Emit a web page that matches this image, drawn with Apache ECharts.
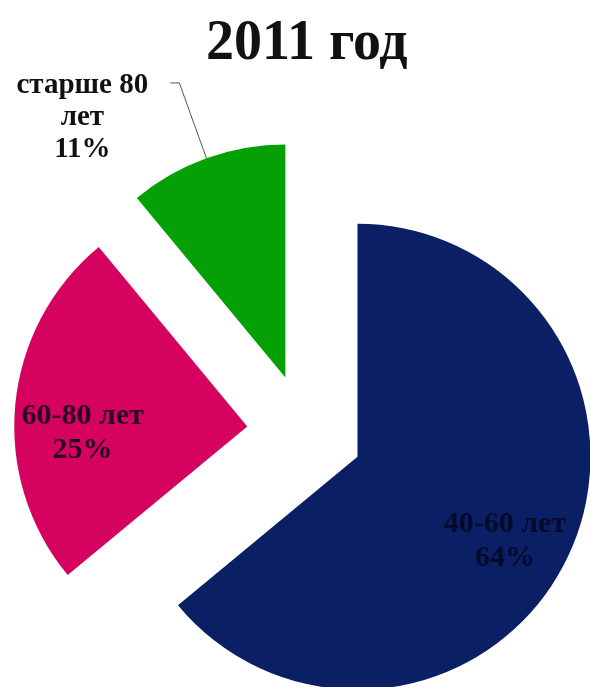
<!DOCTYPE html>
<html>
<head>
<meta charset="utf-8">
<script src="https://cdn.jsdelivr.net/npm/echarts@6/dist/echarts.min.js"></script>
<style>
  html, body { margin: 0; padding: 0; background: #ffffff; }
  #chart { width: 590px; height: 687px; }
</style>
</head>
<body>
<div id="chart"></div>
<script>
// Age groups and their shares, %
const titleText = '2011 год';
const categories = ['40-60 лет', '60-80 лет', 'старше 80 лет'];
const shares = [64, 25, 11];
const sliceColors = ['#0b1f64', '#d5035f', '#05a005'];
const labelColors = ['#030a2c', '#2c0222', '#111111'];
// Small nudges for the two labels drawn inside their slices
const innerLabelShift = [[-5, 13], [3, 23], [0, 0]];

const FONT = '"Liberation Serif", "Times New Roman", serif';
const CENTER = [305, 432];
const RADIUS = 233;
const OFFSET = 58;

// Slices (drawn), all pulled away from the centre
const sliceData = categories.map((name, i) => ({
  name: name,
  value: shares[i],
  selected: true,
  itemStyle: { color: sliceColors[i] },
  select: { itemStyle: { color: sliceColors[i], borderWidth: 0 } },
  label: i === 2 ? {
    show: true,
    position: 'outside',
    formatter: p => '{t|старше 80}\n{t|лет}\n{t|' + p.value + '%}',
    padding: [70, 0, 0, 0],
    rich: { t: { width: 136, align: 'center', fontFamily: FONT, fontWeight: 'bold', fontSize: 29, lineHeight: 32, color: labelColors[i] } }
  } : { show: false },
  labelLine: i === 2 ? { show: true } : { show: false }
}));

// Transparent copy whose ring puts the inner labels further out along each slice
const labelData = categories.map((name, i) => ({
  name: name,
  value: shares[i],
  selected: true,
  itemStyle: { color: 'rgba(0,0,0,0)' },
  select: { itemStyle: { color: 'rgba(0,0,0,0)', borderWidth: 0 } },
  label: {
    show: i !== 2,
    position: 'inside',
    formatter: p => p.name + '\n' + p.value + '%',
    fontFamily: FONT,
    fontWeight: 'bold',
    fontSize: 30,
    lineHeight: 34,
    color: labelColors[i]
  }
}));

const chart = echarts.init(document.getElementById('chart'), null, { renderer: 'canvas' });
chart.setOption({
  animation: false,
  backgroundColor: '#ffffff',
  title: {
    text: titleText,
    left: 201,
    top: 12,
    textStyle: { fontFamily: FONT, fontWeight: 'bold', fontSize: 56, color: '#111111' }
  },
  series: [
    {
      type: 'pie',
      center: CENTER,
      radius: [0, RADIUS],
      startAngle: 90,
      clockwise: true,
      selectedMode: 'multiple',
      selectedOffset: OFFSET,
      avoidLabelOverlap: false,
      silent: true,
      labelLine: { length: 80, length2: 9, smooth: false, lineStyle: { color: '#555555', width: 1 } },
      label: { distanceToLabelLine: 20 },
      data: sliceData
    },
    {
      type: 'pie',
      center: CENTER,
      radius: [RADIUS * 0.42, RADIUS],
      startAngle: 90,
      clockwise: true,
      selectedMode: 'multiple',
      selectedOffset: OFFSET,
      avoidLabelOverlap: false,
      silent: true,
      labelLine: { show: false },
      labelLayout: p => ({ dx: innerLabelShift[p.dataIndex][0], dy: innerLabelShift[p.dataIndex][1] }),
      data: labelData
    }
  ]
});
</script>
</body>
</html>
